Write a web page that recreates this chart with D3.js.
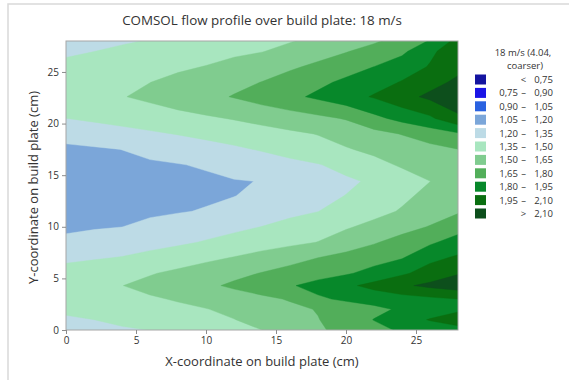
<!DOCTYPE html>
<html><head><meta charset="utf-8">
<script src="https://cdn.jsdelivr.net/npm/d3@7"></script>
<style>
body{margin:0;background:#fff;}
svg text{font-family:"Segoe UI","Open Sans","Noto Sans",sans-serif;fill:#333;}
</style></head><body><svg id="c" width="569" height="380"></svg>
<script>
// x positions of grid columns (cm)
const xCoords = [0,2,4,6,8,10,12,14,16,18,20,22,24,26,28];
// y positions of grid rows (cm), bottom to top
const yCoords = [0,1,2,3,4.3,5.5,7,8.5,10,11.5,13,14.4,16,17.5,19,20.5,22.6,24,25.5,27,28];
// flow speed (m/s), one row per yCoords entry, one value per xCoords entry
const speed = [
 [1.30,1.317,1.334,1.352,1.389,1.426,1.463,1.50,1.565,1.630,1.695,1.759,1.819,1.875,1.93],
 [1.335,1.35,1.379,1.409,1.438,1.468,1.497,1.545,1.595,1.645,1.723,1.804,1.893,1.958,1.98],
 [1.37,1.395,1.42,1.445,1.47,1.495,1.533,1.574,1.615,1.658,1.712,1.765,1.821,1.880,1.94],
 [1.41,1.434,1.459,1.483,1.512,1.547,1.583,1.618,1.662,1.777,1.825,1.856,1.888,1.919,1.95],
 [1.46,1.479,1.498,1.539,1.581,1.624,1.673,1.729,1.786,1.851,1.919,1.995,2.076,2.133,2.18],
 [1.40,1.43,1.46,1.49,1.528,1.571,1.614,1.656,1.699,1.741,1.783,1.847,1.926,2.012,2.09],
 [1.322,1.338,1.357,1.394,1.431,1.469,1.507,1.555,1.602,1.65,1.697,1.744,1.791,1.914,1.97],
 [1.222,1.245,1.27,1.298,1.326,1.361,1.396,1.431,1.466,1.503,1.57,1.637,1.706,1.776,1.865],
 [1.182,1.19,1.199,1.227,1.258,1.289,1.32,1.352,1.396,1.44,1.485,1.538,1.597,1.658,1.736],
 [1.149,1.16,1.17,1.181,1.192,1.208,1.243,1.279,1.314,1.348,1.404,1.457,1.512,1.574,1.635],
 [1.105,1.12,1.136,1.151,1.166,1.182,1.197,1.232,1.272,1.312,1.353,1.413,1.473,1.535,1.60],
 [1.10,1.115,1.13,1.145,1.16,1.175,1.193,1.203,1.249,1.287,1.325,1.372,1.436,1.499,1.57],
 [1.151,1.162,1.173,1.183,1.194,1.214,1.246,1.278,1.31,1.342,1.397,1.459,1.516,1.563,1.61],
 [1.175,1.185,1.201,1.233,1.264,1.295,1.327,1.361,1.404,1.446,1.489,1.53,1.569,1.609,1.648],
 [1.245,1.272,1.3,1.329,1.356,1.385,1.415,1.444,1.474,1.505,1.555,1.605,1.656,1.718,1.78],
 [1.349,1.375,1.402,1.428,1.454,1.48,1.509,1.545,1.581,1.617,1.66,1.76,1.846,1.923,2.07],
 [1.46,1.477,1.494,1.528,1.571,1.614,1.658,1.713,1.767,1.827,1.893,1.963,2.051,2.131,2.20],
 [1.43,1.453,1.476,1.499,1.537,1.575,1.614,1.653,1.711,1.768,1.829,1.893,1.959,2.05,2.13],
 [1.379,1.404,1.429,1.453,1.478,1.505,1.547,1.588,1.629,1.68,1.74,1.801,1.879,1.96,2.06],
 [1.331,1.349,1.373,1.398,1.422,1.446,1.471,1.495,1.541,1.592,1.642,1.704,1.768,1.923,2.03],
 [1.30,1.318,1.336,1.357,1.384,1.411,1.438,1.465,1.492,1.534,1.582,1.631,1.706,1.81,2.0]
];
const thresholds = [0.75,0.90,1.05,1.20,1.35,1.50,1.65,1.80,1.95,2.10];
const bandColors = ["#1414a0","#1a14e6","#2a62e0","#7ba6d9","#bddbe6","#a8e6bf","#80cc8f","#52ae5a","#07882a","#0a6e10","#0d4f1c"];
const legendLeft  = ["","0,75","0,90","1,05","1,20","1,35","1,50","1,65","1,80","1,95",""];
const legendSign  = ["<","–","–","–","–","–","–","–","–","–",">"];
const legendRight = ["0,75","0,90","1,05","1,20","1,35","1,50","1,65","1,80","1,95","2,10","2,10"];
const xTicks = [0,5,10,15,20,25];
const yTicks = [0,5,10,15,20,25];

const svg = d3.select("#c");
const L=66, R=458, T=41, B=330;
const x = d3.scaleLinear().domain([0,28]).range([L,R]);
const y = d3.scaleLinear().domain([0,28]).range([B,T]);

// outer panel frame
svg.append("path").attr("d","M8,380V4H569").attr("fill","none").attr("stroke","#d9d9d9").attr("stroke-width",1.5);

const nx = xCoords.length, ny = yCoords.length;
const gx = d3.scaleLinear().domain(xCoords.map((_,i)=>i+0.5)).range(xCoords);
const gy = d3.scaleLinear().domain(yCoords.map((_,i)=>i+0.5)).range(yCoords);
const values = speed.flat();
const contours = d3.contours().size([nx,ny]).thresholds(thresholds)(values);
const proj = d3.geoTransform({point(px,py){ this.stream.point(x(gx(px)), y(gy(py))); }});
const path = d3.geoPath(proj);

svg.append("clipPath").attr("id","clip").append("rect")
  .attr("x",L).attr("y",T).attr("width",R-L).attr("height",B-T);
const g = svg.append("g").attr("clip-path","url(#clip)");
g.append("rect").attr("x",L).attr("y",T).attr("width",R-L).attr("height",B-T).attr("fill",bandColors[0]);
g.selectAll("path.c").data(contours).join("path").attr("class","c")
  .attr("d",path).attr("fill",(d,i)=>bandColors[i+1])
  .attr("stroke",(d,i)=>bandColors[i+1]).attr("stroke-width",0.4);

svg.append("rect").attr("x",L).attr("y",T).attr("width",R-L).attr("height",B-T)
  .attr("fill","none").attr("stroke","#a6a6a6").attr("stroke-width",1);

const xa = svg.append("g").attr("transform",`translate(0,${B})`)
  .call(d3.axisBottom(x).tickValues(xTicks).tickSize(4).tickPadding(3));
const ya = svg.append("g").attr("transform",`translate(${L},0)`)
  .call(d3.axisLeft(y).tickValues(yTicks).tickSize(4).tickPadding(3));
[xa,ya].forEach(a=>{
  a.select(".domain").remove();
  a.selectAll(".tick line").attr("stroke","#8c8c8c");
  a.selectAll(".tick text").attr("font-size",10).style("fill","#333").style("font-family",null);
});

svg.append("text").attr("x",(L+R)/2).attr("y",25).attr("text-anchor","middle")
  .attr("font-size",13.4).text("COMSOL flow profile over build plate: 18 m/s");
svg.append("text").attr("x",(L+R)/2).attr("y",366).attr("text-anchor","middle")
  .attr("font-size",13).text("X-coordinate on build plate (cm)");
svg.append("text").attr("transform",`translate(38,${(T+B)/2+2}) rotate(-90)`).attr("text-anchor","middle")
  .attr("font-size",13).text("Y-coordinate on build plate (cm)");

const lg = svg.append("g").attr("font-size",9.5);
lg.append("text").attr("x",523).attr("y",56).attr("text-anchor","middle").text("18 m/s (4.04,");
lg.append("text").attr("x",525).attr("y",69).attr("text-anchor","middle").text("coarser)");
bandColors.forEach((c,i)=>{
  const cy = 79.5 + i*13.4;
  lg.append("rect").attr("x",475).attr("y",cy-5).attr("width",11).attr("height",10).attr("fill",c);
  lg.append("text").attr("x",518).attr("y",cy+3.5).attr("text-anchor","end").text(legendLeft[i]);
  lg.append("text").attr("x",523.5).attr("y",cy+3.5).attr("text-anchor","middle").text(legendSign[i]);
  lg.append("text").attr("x",553).attr("y",cy+3.5).attr("text-anchor","end").text(legendRight[i]);
});
</script></body></html>
